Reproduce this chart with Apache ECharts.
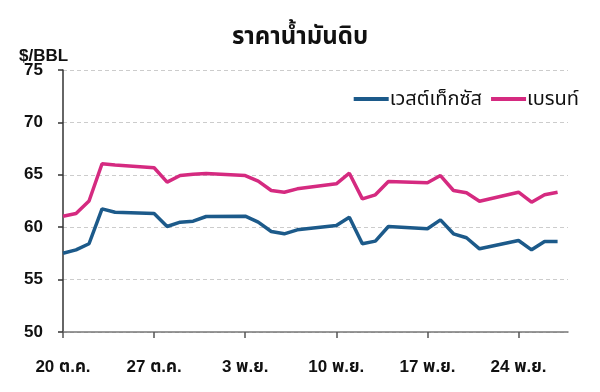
<!DOCTYPE html>
<html><head><meta charset="utf-8">
<script src="https://cdn.jsdelivr.net/npm/echarts@6/dist/echarts.min.js"></script>
<style>html,body{margin:0;padding:0;background:#fff}#c{width:600px;height:392px}</style>
</head><body><div id="c"></div>
<script>
const dates = ['2025-10-20','2025-10-21','2025-10-22','2025-10-23','2025-10-24',
 '2025-10-27','2025-10-28','2025-10-29','2025-10-30','2025-10-31',
 '2025-11-03','2025-11-04','2025-11-05','2025-11-06','2025-11-07',
 '2025-11-10','2025-11-11','2025-11-12','2025-11-13','2025-11-14',
 '2025-11-17','2025-11-18','2025-11-19','2025-11-20','2025-11-21',
 '2025-11-24','2025-11-25','2025-11-26','2025-11-27'];
const wti = [57.52,57.84,58.42,61.75,61.43,
 61.30,60.07,60.48,60.57,61.02,
 61.05,60.48,59.59,59.37,59.75,
 60.16,60.95,58.42,58.67,60.07,
 59.85,60.70,59.37,58.99,57.94,
 58.73,57.84,58.64,58.64];
const brent = [61.05,61.30,62.50,66.05,65.94,
 65.67,64.30,64.93,65.06,65.12,
 64.93,64.39,63.50,63.34,63.66,
 64.14,65.15,62.70,63.09,64.36,
 64.24,64.93,63.50,63.28,62.48,
 63.34,62.39,63.09,63.34];
const xTickLabels = ['20 ต.ค.','27 ต.ค.','3 พ.ย.','10 พ.ย.','17 พ.ย.','24 พ.ย.'];
const seriesNames = ['เวสต์เท็กซัส','เบรนท์'];
const titleText = 'ราคาน้ำมันดิบ';
const unitText = '$/BBL';

const DAY = 86400000;
const t0 = Date.parse(dates[0] + 'T00:00:00Z');
const dayIdx = dates.map(d => Math.round((Date.parse(d + 'T00:00:00Z') - t0) / DAY));
const tickVals = xTickLabels.map((_, i) => i * 7);
const FONT = '"Liberation Sans","Noto Sans Thai","Noto Sans",sans-serif';

const chart = echarts.init(document.getElementById('c'), null, {renderer: 'canvas'});
chart.setOption({
  animation: false,
  backgroundColor: '#fff',
  textStyle: {fontFamily: FONT},
  title: [
    {text: titleText, left: 'center', top: 20, textStyle: {fontFamily: FONT, fontSize: 24, fontWeight: 'bold', color: '#111'}},
    {text: unitText, left: 14, top: 43, textStyle: {fontFamily: FONT, fontSize: 17, fontWeight: 'bold', color: '#111'}}
  ],
  legend: {
    right: 16, top: 84, itemWidth: 35, itemHeight: 4, itemGap: 9,
    icon: 'rect',
    textStyle: {fontFamily: FONT, fontSize: 20, color: '#111', padding: [0, 0, 0, -4]},
    data: seriesNames
  },
  grid: {left: 63, right: 32, top: 70, bottom: 60},
  xAxis: {
    type: 'value', min: 0, max: 38.8,
    axisLine: {lineStyle: {color: '#777', width: 1.5}},
    axisTick: {show: true, length: 6, inside: false, customValues: tickVals, lineStyle: {color: '#555', width: 1.5}},
    axisLabel: {customValues: tickVals, margin: 27, fontSize: 17, fontWeight: 'bold', color: '#111', fontFamily: FONT,
      formatter: v => xTickLabels[Math.round(v / 7)] || ''},
    splitLine: {show: false}
  },
  yAxis: {
    type: 'value', min: 50, max: 75, interval: 5,
    axisLine: {show: true, lineStyle: {color: '#333', width: 1.5}},
    axisTick: {show: true, length: 5, lineStyle: {color: '#333', width: 1.5}},
    axisLabel: {margin: 20, fontSize: 17, fontWeight: 'bold', color: '#111', fontFamily: FONT},
    splitLine: {show: true, lineStyle: {color: '#ccc', type: [4, 3], width: 1}}
  },
  series: [
    {name: seriesNames[0], type: 'line', symbol: 'none', color: '#1c5a8a',
     lineStyle: {width: 3.5, color: '#1c5a8a'},
     data: dayIdx.map((d, i) => [d, wti[i]])},
    {name: seriesNames[1], type: 'line', symbol: 'none', color: '#d52a80',
     lineStyle: {width: 3.5, color: '#d52a80'},
     data: dayIdx.map((d, i) => [d, brent[i]])}
  ]
});
</script>
</body></html>
